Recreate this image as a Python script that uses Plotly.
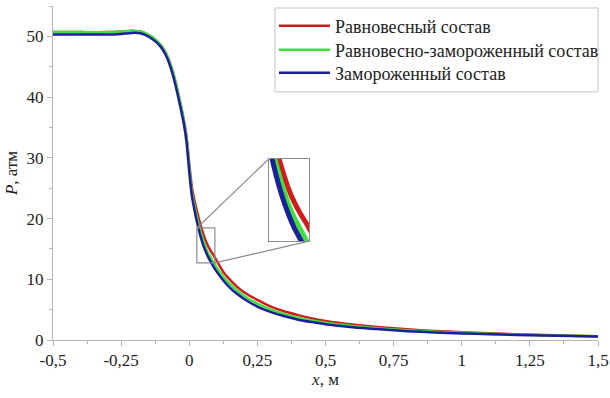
import plotly.graph_objects as go

# ---------------- data ----------------
x_vals = [-0.5, -0.4, -0.3, -0.25, -0.22, -0.2, -0.18, -0.16, -0.14, -0.12, -0.1,
          -0.08, -0.06, -0.04, -0.02, -0.01, 0.0, 0.01, 0.02, 0.03, 0.04, 0.05,
          0.06, 0.07, 0.08, 0.09, 0.1, 0.125, 0.15, 0.175, 0.2, 0.25, 0.3, 0.35,
          0.4, 0.45, 0.5, 0.6, 0.7, 0.8, 0.9, 1.0, 1.1, 1.2, 1.3, 1.4, 1.5]

p_equilibrium = [50.7, 50.7, 50.7, 50.8, 50.9, 50.9, 50.8, 50.5, 50.0, 49.3, 48.3,
                 46.7, 44.1, 40.5, 36.2, 33.5, 29.0, 25.1, 22.8, 20.9, 19.2, 17.7,
                 16.4, 15.4, 14.6, 13.9, 13.1, 11.2, 9.9, 8.8, 7.9, 6.6, 5.5, 4.7,
                 4.1, 3.55, 3.15, 2.55, 2.1, 1.75, 1.5, 1.28, 1.1, 0.96, 0.83, 0.72, 0.62]

p_eq_frozen = [50.7, 50.7, 50.7, 50.8, 50.9, 50.9, 50.8, 50.5, 50.0, 49.3, 48.3,
               46.7, 44.1, 40.5, 36.2, 33.3, 28.5, 24.3, 21.9, 19.9, 18.1, 16.6,
               15.3, 14.3, 13.5, 12.7, 12.0, 10.4, 9.2, 8.2, 7.3, 6.0, 5.0, 4.25,
               3.65, 3.2, 2.85, 2.3, 1.9, 1.6, 1.37, 1.18, 1.03, 0.9, 0.79, 0.69, 0.6]

p_frozen = [50.3, 50.3, 50.3, 50.4, 50.5, 50.6, 50.5, 50.2, 49.7, 49.0, 48.0,
            46.3, 43.6, 39.9, 35.6, 32.6, 27.7, 23.6, 21.2, 19.1, 17.3, 15.8,
            14.6, 13.6, 12.8, 12.0, 11.3, 9.8, 8.6, 7.6, 6.8, 5.5, 4.6, 3.9,
            3.35, 2.95, 2.6, 2.1, 1.75, 1.45, 1.25, 1.08, 0.95, 0.83, 0.73, 0.64, 0.56]

series_names = ["Равновесный состав", "Равновесно-замороженный состав", "Замороженный состав"]
series_values = [p_equilibrium, p_eq_frozen, p_frozen]
series_colors = ["#d01c1c", "#3ee03e", "#1a1f9a"]

x_ticks = [-0.5, -0.25, 0, 0.25, 0.5, 0.75, 1, 1.25, 1.5]
x_tick_labels = ["-0,5", "-0,25", "0", "0,25", "0,5", "0,75", "1", "1,25", "1,5"]
y_ticks = [0, 10, 20, 30, 40, 50]
y_tick_labels = ["0", "10", "20", "30", "40", "50"]

x_range = [-0.5, 1.5]
y_range = [0, 55]

# zoomed inset region (data coords)
zoom_x = [0.028, 0.094]
zoom_y = [12.7, 18.45]
# inset placement (paper coords)
inset_dom_x = [0.396, 0.470]
inset_dom_y = [0.296, 0.542]

# legend layout (paper coords)
legend_box_x = [0.4073, 1.0]
legend_box_y = [0.743, 0.994]
legend_x = 0.4055
legend_rows_y = [0.940, 0.868, 0.799]

FONT = "serif"
TXT = "#222222"
AXIS_GREY = "#b4b4b4"
FRAME_GREY = "#8c8c8c"

fig = go.Figure()

legend_ids = ["legend", "legend2", "legend3"]
for name, vals, col, lg in zip(series_names, series_values, series_colors, legend_ids):
    fig.add_trace(go.Scatter(x=x_vals, y=vals, mode="lines", name=name, legend=lg,
                             line=dict(color=col, width=2.5, shape="spline", smoothing=0.6),
                             xaxis="x", yaxis="y"))

for name, vals, col in zip(series_names, series_values, series_colors):
    fig.add_trace(go.Scatter(x=x_vals, y=vals, mode="lines", name=name, showlegend=False,
                             line=dict(color=col, width=5, shape="spline", smoothing=0.6),
                             xaxis="x2", yaxis="y2", hoverinfo="skip"))

# zoom marker rectangle
fig.add_shape(type="rect", xref="x", yref="y", x0=zoom_x[0], x1=zoom_x[1],
              y0=zoom_y[0], y1=zoom_y[1], line=dict(color=FRAME_GREY, width=1.2))

def to_paper_x(v):
    return (v - x_range[0]) / (x_range[1] - x_range[0])

def to_paper_y(v):
    return (v - y_range[0]) / (y_range[1] - y_range[0])

fig.add_shape(type="line", xref="paper", yref="paper",
              x0=to_paper_x(zoom_x[0]), y0=to_paper_y(zoom_y[1]),
              x1=inset_dom_x[0], y1=inset_dom_y[1], line=dict(color=FRAME_GREY, width=1.2))
fig.add_shape(type="line", xref="paper", yref="paper",
              x0=to_paper_x(zoom_x[1]), y0=to_paper_y(zoom_y[0]),
              x1=inset_dom_x[1], y1=inset_dom_y[0], line=dict(color=FRAME_GREY, width=1.2))

# legend frame
fig.add_shape(type="rect", xref="paper", yref="paper",
              x0=legend_box_x[0], x1=legend_box_x[1], y0=legend_box_y[0], y1=legend_box_y[1],
              line=dict(color="#c4c4c4", width=1), fillcolor="white", layer="below")

legend_common = dict(xanchor="left", yanchor="middle", bgcolor="rgba(0,0,0,0)",
                     borderwidth=0, itemwidth=51,
                     font=dict(family=FONT, size=18, color=TXT))

fig.update_layout(
    width=610, height=398,
    margin=dict(l=53, r=12, t=6, b=58),
    paper_bgcolor="white", plot_bgcolor="white",
    showlegend=True,
    legend=dict(x=legend_x, y=legend_rows_y[0], **legend_common),
    legend2=dict(x=legend_x, y=legend_rows_y[1], **legend_common),
    legend3=dict(x=legend_x, y=legend_rows_y[2], **legend_common),
    xaxis=dict(range=x_range, tickvals=x_ticks, ticktext=x_tick_labels, automargin=False,
               showgrid=False, zeroline=False, showline=True, linecolor=AXIS_GREY,
               linewidth=1, ticks="outside", ticklen=5, tickcolor=AXIS_GREY,
               minor=dict(dtick=0.125, ticks="outside", ticklen=3, tickcolor=AXIS_GREY),
               title=dict(text="<i>x</i>, м", standoff=2, font=dict(family=FONT, size=17, color=TXT)),
               tickfont=dict(family=FONT, size=17, color=TXT)),
    yaxis=dict(range=y_range, tickvals=y_ticks, ticktext=y_tick_labels, automargin=False,
               showgrid=False, zeroline=False, showline=True, linecolor=AXIS_GREY,
               linewidth=1, ticks="outside", ticklen=5, tickcolor=AXIS_GREY,
               minor=dict(dtick=5, ticks="outside", ticklen=3, tickcolor=AXIS_GREY),
               title=dict(text="<i>P</i>, атм", standoff=4, font=dict(family=FONT, size=17, color=TXT)),
               tickfont=dict(family=FONT, size=17, color=TXT)),
    xaxis2=dict(domain=inset_dom_x, anchor="y2", range=zoom_x, showticklabels=False,
                ticks="", showgrid=False, zeroline=False, showline=True, mirror=True,
                linecolor=FRAME_GREY, linewidth=1.2),
    yaxis2=dict(domain=inset_dom_y, anchor="x2", range=zoom_y, showticklabels=False,
                ticks="", showgrid=False, zeroline=False, showline=True, mirror=True,
                linecolor=FRAME_GREY, linewidth=1.2),
)

fig.write_html("out.html")
